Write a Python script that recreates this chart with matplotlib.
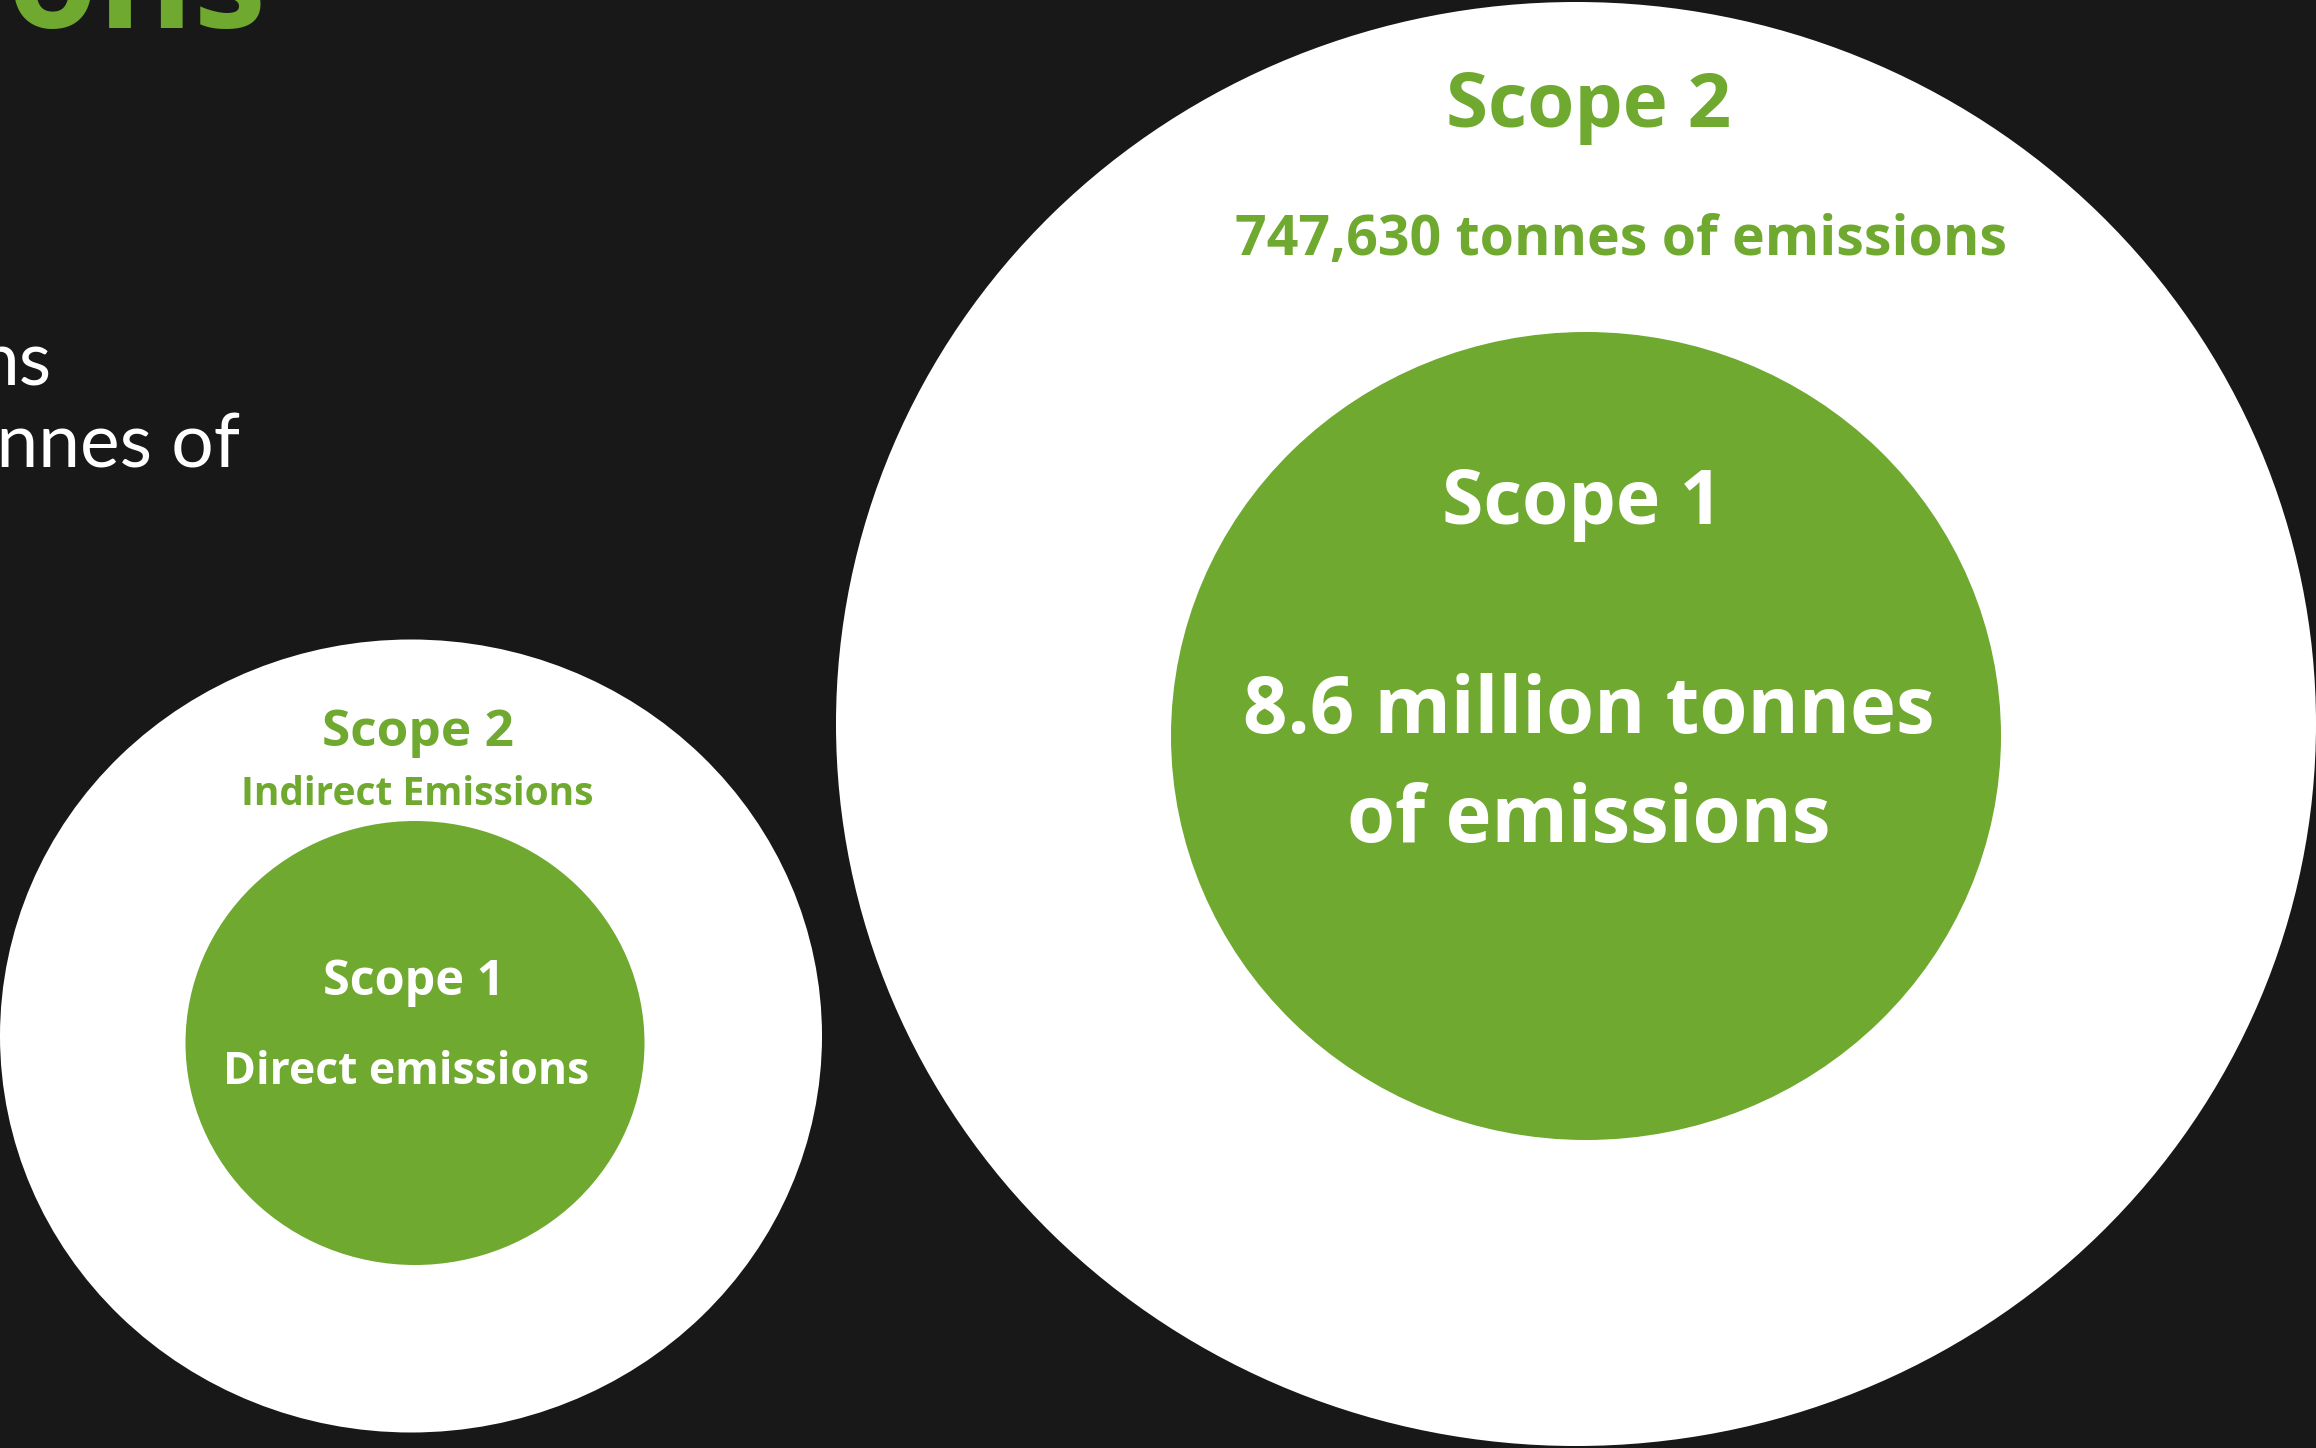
import matplotlib.pyplot as plt
from matplotlib.patches import Ellipse

# ------------------------------------------------------------
# DATA
# ------------------------------------------------------------
scope_names = ["Scope 1", "Scope 2"]
scope_desc = ["Direct emissions", "Indirect Emissions"]
scope_values = ["8.6 million tonnes\nof emissions", "747,630 tonnes of emissions"]
title_fragment = "ions"
body_fragments = ["ns", "onnes of"]

# ------------------------------------------------------------
# STYLE
# ------------------------------------------------------------
BG = "#181818"
GREEN = "#6FA92F"
WHITE = "#FFFFFF"
FONT = ["Open Sans", "DejaVu Sans"]
BODY_FONT = ["Lato", "Open Sans", "DejaVu Sans"]

W, H = 2316, 1448
fig = plt.figure(figsize=(W / 100, H / 100), dpi=100, facecolor=BG)
ax = fig.add_axes([0, 0, 1, 1])
ax.set_xlim(0, W)
ax.set_ylim(H, 0)
ax.set_facecolor(BG)
ax.axis("off")

# --- small key diagram (left) ---
ax.add_patch(Ellipse((411, 1036), 822, 793, color=WHITE, lw=0))
ax.add_patch(Ellipse((415, 1043), 459, 444, color=GREEN, lw=0))

ax.text(418, 746, scope_names[1], color=GREEN, fontsize=37, fontweight="bold",
        family=FONT, ha="center", va="baseline")
ax.text(417, 805, scope_desc[1], color=GREEN, fontsize=28, fontweight="bold",
        family=FONT, ha="center", va="baseline")
ax.text(414, 995, scope_names[0], color=WHITE, fontsize=35, fontweight="bold",
        family=FONT, ha="center", va="baseline")
ax.text(406, 1084, scope_desc[0], color=WHITE, fontsize=32, fontweight="bold",
        family=FONT, ha="center", va="baseline")

# --- big values diagram (right) ---
ax.add_patch(Ellipse((1576, 724), 1480, 1444, color=WHITE, lw=0))
ax.add_patch(Ellipse((1586, 736), 830, 808, color=GREEN, lw=0))

ax.text(1589, 127, scope_names[1], color=GREEN, fontsize=55, fontweight="bold",
        family=FONT, ha="center", va="baseline")
ax.text(1621, 255, scope_values[1], color=GREEN, fontsize=40, fontweight="bold",
        family=FONT, ha="center", va="baseline")
ax.text(1582, 524, scope_names[0], color=WHITE, fontsize=54, fontweight="bold",
        family=FONT, ha="center", va="baseline")
line1, line2 = scope_values[0].split("\n")
ax.text(1589, 733, line1, color=WHITE, fontsize=56, fontweight="bold",
        family=FONT, ha="center", va="baseline")
ax.text(1589, 842, line2, color=WHITE, fontsize=56, fontweight="bold",
        family=FONT, ha="center", va="baseline")

# --- heading and body text, cut by the left/top edge as in the source slide ---
ax.text(266, 28, title_fragment, color=GREEN, fontsize=105, fontweight="bold",
        family=FONT, ha="right", va="baseline")
ax.text(52, 385, body_fragments[0], color=WHITE, fontsize=54, fontweight="normal",
        family=BODY_FONT, ha="right", va="baseline")
ax.text(240, 467, body_fragments[1], color=WHITE, fontsize=54, fontweight="normal",
        family=BODY_FONT, ha="right", va="baseline")

fig.savefig("out.png", dpi=100, facecolor=BG)
